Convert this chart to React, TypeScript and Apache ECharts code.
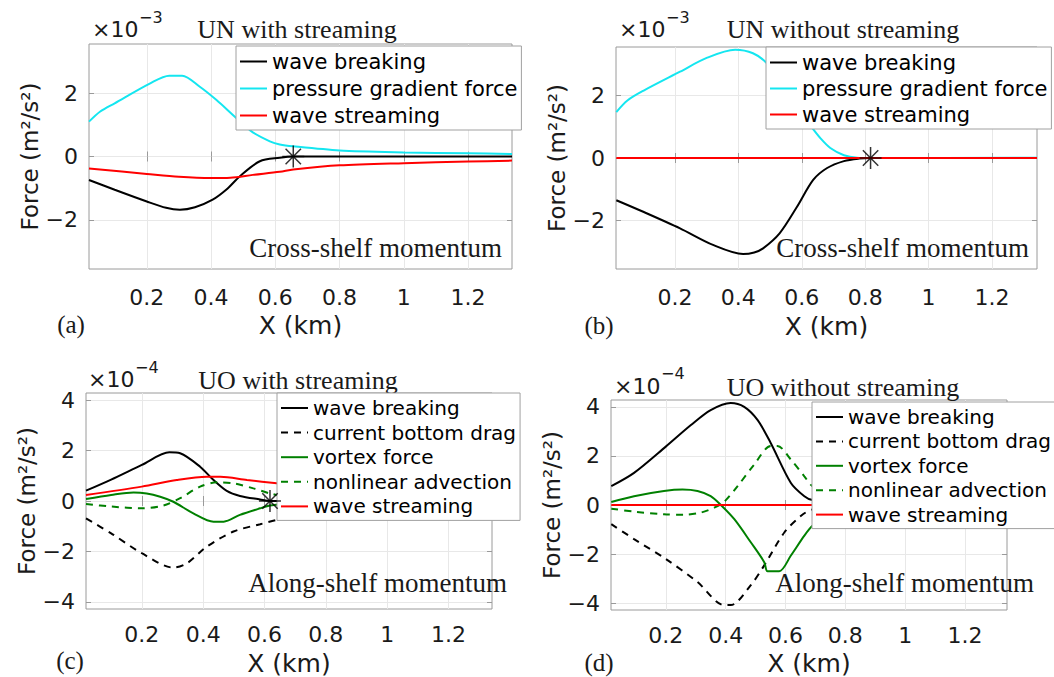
import React, { useEffect, useRef } from 'react';
import * as echarts from 'echarts';

// ---------- data ----------
const xTicks = [0.2, 0.4, 0.6, 0.8, 1, 1.2];
const yTicksUN = [-2, 0, 2];
const yTicksUO = [-4, -2, 0, 2, 4];

const namesUN = ['wave breaking', 'pressure gradient force', 'wave streaming'];
const namesUO = ['wave breaking', 'current bottom drag', 'vortex force', 'nonlinear advection', 'wave streaming'];

const panelTitles = ['UN with streaming', 'UN without streaming', 'UO with streaming', 'UO without streaming'];
const panelLetters = ['(a)', '(b)', '(c)', '(d)'];
const panelNotes = ['Cross-shelf momentum', 'Cross-shelf momentum', 'Along-shelf momentum', 'Along-shelf momentum'];
const panelExponents = ['\u22123', '\u22123', '\u22124', '\u22124'];

// (a) UN with streaming, x 1e-3
const aBreaking = [[0.02, -0.74], [0.1, -1.05], [0.2, -1.42], [0.26, -1.62], [0.303, -1.68], [0.35, -1.6], [0.405, -1.36], [0.448, -1.04], [0.49, -0.62], [0.552, -0.15], [0.614, -0.04], [0.656, 0], [0.8, 0], [1.0, 0], [1.337, 0]];
const aPressure = [[0.02, 1.1], [0.055, 1.42], [0.1, 1.68], [0.209, 2.3], [0.27, 2.55], [0.31, 2.55], [0.365, 2.2], [0.417, 1.78], [0.468, 1.31], [0.5, 1.02], [0.53, 0.76], [0.583, 0.48], [0.614, 0.38], [0.656, 0.32], [0.8, 0.19], [1.0, 0.13], [1.2, 0.1], [1.337, 0.08]];
const aStreaming = [[0.02, -0.38], [0.2, -0.55], [0.3, -0.64], [0.4, -0.68], [0.46, -0.67], [0.53, -0.58], [0.614, -0.48], [0.656, -0.41], [0.8, -0.28], [1.0, -0.21], [1.2, -0.16], [1.337, -0.13]];
const aStar = [[0.656, 0]];

// (b) UN without streaming, x 1e-3
const bBreaking = [[0.015, -1.35], [0.1, -1.72], [0.216, -2.25], [0.32, -2.78], [0.415, -3.07], [0.45, -3.02], [0.478, -2.89], [0.53, -2.41], [0.585, -1.56], [0.636, -0.7], [0.68, -0.32], [0.733, -0.1], [0.78, -0.02], [0.817, 0], [1.0, 0], [1.342, 0]];
const bPressure = [[0.015, 1.47], [0.05, 1.84], [0.1, 2.15], [0.216, 2.76], [0.3, 3.2], [0.39, 3.46], [0.446, 3.35], [0.49, 3.03], [0.55, 2.2], [0.6, 1.4], [0.63, 1.0], [0.66, 0.62], [0.69, 0.32], [0.733, 0.09], [0.775, 0.01], [0.817, 0], [1.342, 0.01]];
const bStreaming = [[0.015, 0], [1.342, 0]];
const bStar = [[0.817, 0]];

// (c) UO with streaming, x 1e-4
const cBreaking = [[0.018, 0.41], [0.1, 0.85], [0.2, 1.43], [0.29, 1.93], [0.325, 1.89], [0.39, 1.36], [0.434, 0.83], [0.477, 0.4], [0.52, 0.2], [0.586, 0.06], [0.618, 0], [0.8, 0], [1.342, 0]];
const cDrag = [[0.018, -0.69], [0.1, -1.28], [0.2, -2.07], [0.303, -2.64], [0.347, -2.47], [0.412, -1.81], [0.499, -1.21], [0.586, -0.92], [0.64, -0.75], [0.75, -0.5], [0.9, -0.2], [1.1, -0.05], [1.342, 0]];
const cVortex = [[0.018, 0.08], [0.1, 0.24], [0.173, 0.34], [0.216, 0.3], [0.26, 0.17], [0.303, -0.03], [0.368, -0.49], [0.434, -0.82], [0.467, -0.82], [0.52, -0.55], [0.586, -0.29], [0.618, -0.18], [0.7, -0.08], [0.9, 0], [1.342, 0]];
const cAdvection = [[0.018, -0.12], [0.1, -0.22], [0.205, -0.29], [0.27, -0.18], [0.325, 0.11], [0.39, 0.57], [0.445, 0.74], [0.5, 0.7], [0.564, 0.5], [0.618, 0.3], [0.7, 0.1], [0.9, 0], [1.342, 0]];
const cStreaming = [[0.018, 0.24], [0.2, 0.57], [0.314, 0.83], [0.412, 0.96], [0.456, 0.96], [0.543, 0.83], [0.64, 0.7], [0.8, 0.5], [1.0, 0.35], [1.342, 0.2]];
const cStar = [[0.618, 0]];

// (d) UO without streaming, x 1e-4
const dBreaking = [[0.018, 0.77], [0.094, 1.31], [0.2, 2.38], [0.284, 3.26], [0.35, 3.87], [0.417, 4.16], [0.462, 4.0], [0.507, 3.46], [0.551, 2.52], [0.618, 0.9], [0.663, 0.36], [0.69, 0.2], [0.8, 0.02], [1.34, 0]];
const dDrag = [[0.018, -0.78], [0.094, -1.39], [0.2, -2.2], [0.306, -3.14], [0.395, -4.08], [0.417, -4.08], [0.484, -3.27], [0.529, -2.46], [0.596, -1.12], [0.652, -0.44], [0.69, -0.18], [0.8, -0.02], [1.34, 0]];
const dVortex = [[0.018, 0.12], [0.094, 0.36], [0.194, 0.57], [0.256, 0.63], [0.306, 0.57], [0.35, 0.36], [0.384, 0], [0.429, -0.58], [0.484, -1.52], [0.529, -2.33], [0.54, -2.7], [0.579, -2.7], [0.618, -2.06], [0.663, -1.25], [0.69, -0.85], [0.75, -0.3], [0.85, -0.03], [1.34, 0]];
const dAdvection = [[0.018, -0.15], [0.094, -0.27], [0.194, -0.38], [0.261, -0.4], [0.317, -0.31], [0.362, -0.11], [0.395, 0.13], [0.44, 0.77], [0.495, 1.64], [0.551, 2.41], [0.573, 2.41], [0.618, 1.85], [0.663, 1.17], [0.69, 0.77], [0.8, 0.1], [1.34, 0]];
const dStreaming = [[0.018, 0], [1.34, 0]];

// ---------- styles / layout ----------
const SANS = 'DejaVu Sans';
const SERIF = 'Liberation Serif';
const AXIS_GRAY = '#9a9a9a';
const TEXT = '#1a1a1a';

const lineStyles: Record<string, { color: string; type: any }> = {
  'wave breaking': { color: '#000000', type: 'solid' },
  'pressure gradient force': { color: '#14e6f0', type: 'solid' },
  'wave streaming': { color: '#ff0000', type: 'solid' },
  'current bottom drag': { color: '#000000', type: [7, 6] },
  'vortex force': { color: '#008000', type: 'solid' },
  'nonlinear advection': { color: '#008000', type: [7, 6] },
};

const panels = [
  {
    grid: { left: 89, top: 44, width: 423, height: 225 },
    x: [0.02, 1.337], y: [-3.55, 3.55], yTicks: yTicksUN,
    names: namesUN, data: [aBreaking, aPressure, aStreaming], star: aStar,
    legend: { left: 236, top: 46, fontSize: 21, itemGap: 6, padding: [5, 4, 4, 3] },
    title: [297, 29], exp: [92, 29, 139, 17], letter: [71, 324], note: [502, 248],
    xNameGap: 44, yNameGap: 46, xLabelMargin: 17,
  },
  {
    grid: { left: 616, top: 47, width: 421, height: 222 },
    x: [0.014, 1.342], y: [-3.55, 3.55], yTicks: yTicksUN,
    names: namesUN, data: [bBreaking, bPressure, bStreaming], star: bStar,
    legend: { left: 766, top: 47, fontSize: 21, itemGap: 5, padding: [5, 4, 4, 3] },
    title: [843, 29], exp: [619, 29, 666, 17], letter: [599, 325], note: [1029, 248],
    xNameGap: 45, yNameGap: 47, xLabelMargin: 17,
  },
  {
    grid: { left: 86, top: 393, width: 406, height: 216 },
    x: [0.018, 1.342], y: [-4.28, 4.28], yTicks: yTicksUO,
    names: namesUO, data: [cBreaking, cDrag, cVortex, cAdvection, cStreaming], star: cStar,
    legend: { left: 277, top: 393, fontSize: 20, itemGap: 4.6, padding: [5, 4, 4, 3] },
    title: [298, 380], exp: [88, 379, 135, 367], letter: [70, 660], note: [507, 583],
    xNameGap: 42, yNameGap: 44, xLabelMargin: 14,
  },
  {
    grid: { left: 611, top: 400, width: 396, height: 211 },
    x: [0.017, 1.34], y: [-4.28, 4.28], yTicks: yTicksUO,
    names: namesUO, data: [dBreaking, dDrag, dVortex, dAdvection, dStreaming], star: null as any,
    legend: { left: 812, top: 402, fontSize: 20, itemGap: 4.4, padding: [5, 4, 4, 3] },
    title: [843, 387], exp: [614, 386, 661, 373], letter: [599, 662], note: [1034, 583],
    xNameGap: 41, yNameGap: 43, xLabelMargin: 14,
  },
];

const fmt = (v: number) => (v < 0 ? '\u2212' + String(Math.abs(v)) : String(v));

const STAR = 'path://M5,0L5,10M0,5L10,5M1.5,1.5L8.5,8.5M1.5,8.5L8.5,1.5';

function buildOption() {
  const grid: any[] = [];
  const xAxis: any[] = [];
  const yAxis: any[] = [];
  const series: any[] = [];
  const legend: any[] = [];
  const graphic: any[] = [];
  const n = panels.length;

  panels.forEach((p, i) => {
    grid.push({ ...p.grid, show: true, borderColor: AXIS_GRAY, borderWidth: 1, backgroundColor: 'transparent' });
    xAxis[i] = {
      type: 'value', gridIndex: i, min: p.x[0], max: p.x[1],
      axisLine: { show: false },
      axisTick: { show: true, inside: true, length: 5, customValues: xTicks, lineStyle: { color: AXIS_GRAY } },
      axisLabel: { customValues: xTicks, formatter: fmt, fontFamily: SANS, fontSize: 22, color: TEXT, margin: p.xLabelMargin },
      splitLine: { show: true, lineStyle: { color: '#e8e8e8', width: 1 } },
      name: 'X (km)', nameLocation: 'middle', nameGap: p.xNameGap,
      nameTextStyle: { fontFamily: SANS, fontSize: 25, color: TEXT },
    };
    // top axis: ticks only (box style)
    xAxis[n + i] = {
      type: 'value', gridIndex: i, position: 'top', min: p.x[0], max: p.x[1],
      axisLine: { show: false },
      axisTick: { show: true, inside: true, length: 5, customValues: xTicks, lineStyle: { color: AXIS_GRAY } },
      axisLabel: { show: false }, splitLine: { show: false },
    };
    yAxis[i] = {
      type: 'value', gridIndex: i, min: p.y[0], max: p.y[1],
      axisLine: { show: false },
      axisTick: { show: true, inside: true, length: 5, customValues: p.yTicks, lineStyle: { color: AXIS_GRAY } },
      axisLabel: { customValues: p.yTicks, formatter: fmt, fontFamily: SANS, fontSize: 22, color: TEXT, margin: 11 },
      splitLine: { show: true, lineStyle: { color: '#e8e8e8', width: 1 } },
      name: 'Force (m\u00b2/s\u00b2)', nameLocation: 'middle', nameGap: p.yNameGap, nameRotate: 90,
      nameTextStyle: { fontFamily: SANS, fontSize: 23, color: TEXT },
    };
    yAxis[n + i] = {
      type: 'value', gridIndex: i, position: 'right', min: p.y[0], max: p.y[1],
      axisLine: { show: false },
      axisTick: { show: true, inside: true, length: 5, customValues: p.yTicks, lineStyle: { color: AXIS_GRAY } },
      axisLabel: { show: false }, splitLine: { show: false },
    };
    p.names.forEach((name, k) => {
      const st = lineStyles[name];
      series.push({
        type: 'line', name, xAxisIndex: i, yAxisIndex: i, data: p.data[k],
        symbol: 'none', showSymbol: false, smooth: 0.3, silent: true,
        lineStyle: { color: st.color, width: 2, type: st.type },
        itemStyle: { color: st.color },
      });
    });
    if (p.star) {
      series.push({
        type: 'scatter', name: 'marker', xAxisIndex: i, yAxisIndex: i, data: p.star,
        symbol: STAR, symbolSize: 22, z: 5, silent: true,
        itemStyle: { color: 'transparent', borderColor: '#000', borderWidth: 1.5 },
      });
    }
    legend.push({
      left: p.legend.left, top: p.legend.top, orient: 'vertical', data: p.names,
      itemWidth: 27, itemHeight: 12, itemGap: p.legend.itemGap, padding: p.legend.padding,
      backgroundColor: '#ffffff', borderColor: '#a0a0a0', borderWidth: 1, borderRadius: 0,
      selectedMode: false,
      itemStyle: { opacity: 0 },
      textStyle: { fontFamily: SANS, fontSize: p.legend.fontSize, color: '#000' },
    });
    graphic.push(
      { type: 'text', x: p.title[0], y: p.title[1], style: { text: panelTitles[i], font: `26px "${SERIF}"`, fill: TEXT, align: 'center', verticalAlign: 'middle' } },
      { type: 'text', x: p.exp[0], y: p.exp[1], style: { text: '\u00d710', font: `22px "${SANS}"`, fill: TEXT, align: 'left', verticalAlign: 'middle' } },
      { type: 'text', x: p.exp[2], y: p.exp[3], style: { text: panelExponents[i], font: `16px "${SANS}"`, fill: TEXT, align: 'left', verticalAlign: 'middle' } },
      { type: 'text', x: p.letter[0], y: p.letter[1], style: { text: panelLetters[i], font: `25px "${SERIF}"`, fill: TEXT, align: 'center', verticalAlign: 'middle' } },
      { type: 'text', x: p.note[0], y: p.note[1], z: 10, style: { text: panelNotes[i], font: `27px "${SERIF}"`, fill: TEXT, align: 'right', verticalAlign: 'middle' } },
    );
  });

  return { animation: false, backgroundColor: '#ffffff', grid, xAxis, yAxis, series, legend, graphic };
}

export default function App() {
  const ref = useRef<HTMLDivElement>(null);
  useEffect(() => {
    const chart = echarts.init(ref.current!, null, { renderer: 'svg' });
    chart.setOption(buildOption() as any);
    return () => chart.dispose();
  }, []);
  return <div ref={ref} style={{ position: 'fixed', left: 0, top: 0, width: 1054, height: 677, background: '#fff' }} />;
}
